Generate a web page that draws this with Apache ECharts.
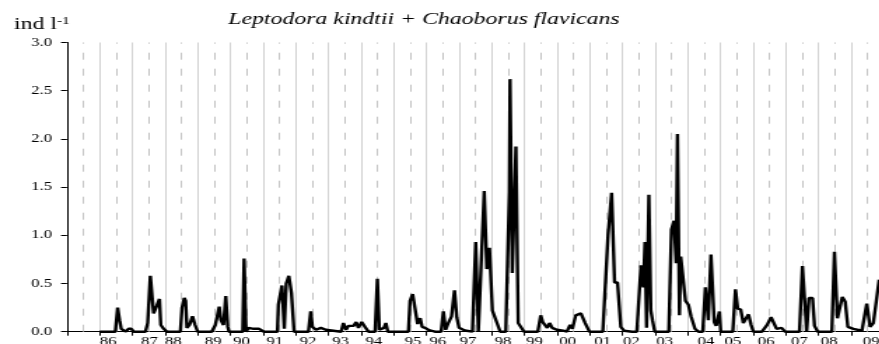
<!DOCTYPE html>
<html>
<head>
<meta charset="utf-8">
<script src="https://cdn.jsdelivr.net/npm/echarts@6/dist/echarts.min.js"></script>
<style>
  html, body { margin: 0; padding: 0; background: #fff; overflow: hidden; }
  #main { height: 344px; transform-origin: 0 0; }
</style>
</head>
<body>
<div id="main"></div>
<script>
// Sampling dates (decimal years) and densities of Leptodora + Chaoborus (ind/l)
const sampleDate = [
  1986.00, 1986.48, 1986.55, 1986.61, 1986.66, 1986.73, 1986.80, 1986.88, 1986.97, 1987.04,
  1987.40, 1987.47, 1987.52, 1987.55, 1987.65, 1987.75, 1987.83, 1987.87, 1987.96, 1988.06,
  1988.47, 1988.52, 1988.59, 1988.63, 1988.67, 1988.75, 1988.84, 1988.92, 1989.00,
  1989.43, 1989.54, 1989.59, 1989.66, 1989.71, 1989.79, 1989.86, 1989.92, 1989.96,
  1990.38, 1990.42, 1990.48, 1990.56, 1990.63, 1990.71, 1990.79, 1990.88, 1990.96, 1991.03,
  1991.44, 1991.47, 1991.52, 1991.58, 1991.65, 1991.71, 1991.79, 1991.87, 1991.95,
  1992.39, 1992.46, 1992.51, 1992.56, 1992.62, 1992.70, 1992.77, 1992.85, 1992.92, 1993.00,
  1993.39, 1993.46, 1993.54, 1993.61, 1993.68, 1993.77, 1993.85, 1993.92, 1994.02, 1994.12, 1994.23,
  1994.43, 1994.50, 1994.56, 1994.63, 1994.70, 1994.76, 1994.82,
  1995.45, 1995.50, 1995.58, 1995.66, 1995.73, 1995.81, 1995.87, 1995.96, 1996.06, 1996.16, 1996.26,
  1996.45, 1996.52, 1996.59, 1996.67, 1996.77, 1996.86, 1996.93, 1997.00, 1997.13, 1997.23, 1997.41,
  1997.44, 1997.51, 1997.59, 1997.77, 1997.85, 1997.93, 1998.02, 1998.26,
  1998.43, 1998.54, 1998.56, 1998.63, 1998.74, 1998.81, 1998.89, 1998.99,
  1999.41, 1999.50, 1999.56, 1999.63, 1999.70, 1999.77, 1999.85, 1999.99, 2000.19, 2000.30,
  2000.40, 2000.47, 2000.57, 2000.65, 2000.73, 2000.86, 2000.99,
  2001.40, 2001.56, 2001.67, 2001.76, 2001.85, 2001.95, 2002.05, 2002.30,
  2002.44, 2002.57, 2002.64, 2002.69, 2002.74, 2002.81, 2002.87, 2002.92, 2002.99,
  2003.42, 2003.50, 2003.58, 2003.645, 2003.685, 2003.745, 2003.785, 2003.86, 2003.93, 2004.02, 2004.10, 2004.22, 2004.33,
  2004.46, 2004.54, 2004.63, 2004.71, 2004.81, 2004.87, 2004.97, 2005.01,
  2005.38, 2005.46, 2005.53, 2005.62, 2005.70, 2005.78, 2005.86, 2005.94, 2006.01,
  2006.27, 2006.43, 2006.55, 2006.62, 2006.72, 2006.80, 2006.87, 2006.98,
  2007.42, 2007.51, 2007.64, 2007.71, 2007.82, 2007.88, 2007.98,
  2008.41, 2008.49, 2008.58, 2008.73, 2008.82, 2008.90, 2009.07, 2009.33, 2009.41,
  2009.48, 2009.58, 2009.68, 2009.76, 2009.86
];
const density = [
  0, 0, 0.25, 0.12, 0.03, 0.03, 0.00, 0.03, 0.03, 0,
  0, 0.09, 0.11, 0.58, 0.19, 0.27, 0.34, 0.07, 0.03, 0,
  0, 0.25, 0.35, 0.32, 0.04, 0.07, 0.16, 0.07, 0,
  0, 0.07, 0.09, 0.26, 0.12, 0.07, 0.37, 0.05, 0,
  0, 0.76, 0, 0.04, 0.02, 0.03, 0.02, 0.03, 0.02, 0,
  0, 0.28, 0.27, 0.48, 0.03, 0.50, 0.58, 0.40, 0,
  0, 0.21, 0.05, 0.07, 0.02, 0.02, 0.04, 0.04, 0.02, 0,
  0, 0.09, 0.02, 0.06, 0.05, 0.06, 0.10, 0.04, 0.10, 0.05, 0,
  0, 0.55, 0.02, 0.02, 0.04, 0.09, 0,
  0, 0.32, 0.39, 0.38, 0.08, 0.14, 0.05, 0.04, 0.02, 0.01, 0,
  0, 0.21, 0.02, 0.09, 0.16, 0.43, 0.15, 0.04, 0.02, 0.01, 0,
  0, 0.93, 0, 1.46, 0.65, 0.87, 0.22, 0,
  0, 1.45, 2.62, 0.61, 1.92, 0.09, 0.10, 0,
  0, 0.17, 0.10, 0.09, 0.04, 0.09, 0.04, 0.02, 0.01, 0,
  0.07, 0.03, 0.17, 0.16, 0.19, 0.09, 0,
  0, 1.00, 1.44, 0.51, 0.51, 0.05, 0.01, 0,
  0, 0.69, 0.46, 0.93, 0.04, 1.42, 0.22, 0.12, 0,
  0, 1.06, 1.15, 0.71, 2.05, 0.17, 0.78, 0.77, 0.32, 0.28, 0.16, 0.03, 0,
  0, 0.46, 0.12, 0.80, 0.10, 0.06, 0.21, 0,
  0, 0.44, 0.24, 0.23, 0.09, 0.09, 0.18, 0.07, 0,
  0, 0.07, 0.15, 0.15, 0.03, 0.05, 0.04, 0,
  0, 0.68, 0, 0.35, 0.35, 0.06, 0,
  0, 0.83, 0.14, 0.36, 0.31, 0.05, 0.03, 0.01, 0,
  0.29, 0.05, 0.09, 0.10, 0.54
];

// Year labels and where they sit on the time axis
const yearLabels = ['86','87','88','89','90','91','92','93','94','95','96','97',
                    '98','99','00','01','02','03','04','05','06','07','08','09'];
const yearLabelAt = [1986.26, 1987.52, 1988.25, 1989.47, 1990.34, 1991.36, 1992.38, 1993.37,
                     1994.39, 1995.59, 1996.35, 1997.27, 1998.34, 1999.31, 2000.33, 2001.40,
                     2002.27, 2003.29, 2004.56, 2005.38, 2006.40, 2007.42, 2008.33, 2009.61];

const yTicks = [0, 0.5, 1.0, 1.5, 2.0, 2.5, 3.0];
const xStart = 1985;
const xEnd = 2009.86;

// The figure is drawn narrow and widened horizontally, giving the wide lettering
const S = 1.4;
const el = document.getElementById('main');
el.style.width = (879 / S) + 'px';
el.style.transform = 'scaleX(' + S + ')';

const FONT = '"Liberation Serif", "Times New Roman", serif';

// Mid-year reference lines
const midYears = [];
for (let y = xStart; y < xEnd; y++) midYears.push(y + 0.5);

const chart = echarts.init(el, null, { renderer: 'canvas' });
chart.setOption({
  animation: false,
  backgroundColor: '#ffffff',
  grid: {
    left: 67 / S, right: 0, top: 42.5, bottom: 12.3,
    containLabel: false,
    outerBoundsMode: 'none'
  },
  xAxis: {
    type: 'value',
    min: xStart,
    max: xEnd,
    interval: 1,
    axisLine: { show: true, onZero: false, lineStyle: { color: '#000', width: 1 } },
    axisTick: { show: true, length: 4, lineStyle: { color: '#000', width: 1 } },
    axisLabel: {
      customValues: yearLabelAt,
      formatter: v => { const i = yearLabelAt.indexOf(v); return i >= 0 ? yearLabels[i] : ''; },
      margin: 4,
      color: '#000',
      fontFamily: FONT,
      fontSize: 12
    },
    splitLine: { show: true, lineStyle: { color: '#d2d2d2', width: 1 } }
  },
  yAxis: {
    type: 'value',
    min: yTicks[0],
    max: yTicks[yTicks.length - 1],
    interval: 0.5,
    axisLine: { show: true, lineStyle: { color: '#000', width: 1 } },
    axisTick: { show: true, length: 6 / S, lineStyle: { color: '#000', width: 1 } },
    axisLabel: {
      formatter: v => v.toFixed(1),
      margin: 15 / S,
      color: '#000',
      fontFamily: FONT,
      fontSize: 12
    },
    splitLine: { show: false }
  },
  graphic: [
    {
      type: 'text',
      x: 424 / S,
      y: 20,
      style: {
        text: 'Leptodora kindtii + Chaoborus flavicans',
        fontFamily: FONT,
        fontStyle: 'italic',
        fontSize: 17,
        fill: '#000',
        align: 'center',
        verticalAlign: 'middle'
      }
    },
    {
      type: 'text',
      x: 14 / S,
      y: 16,
      style: {
        text: 'ind l{sup|-1}',
        fontFamily: FONT,
        fontSize: 17,
        fill: '#000',
        align: 'left',
        verticalAlign: 'top',
        rich: { sup: { fontFamily: FONT, fontSize: 11, verticalAlign: 'top', fill: '#000' } }
      }
    }
  ],
  series: [
    {
      name: 'mid-year',
      type: 'line',
      data: [],
      z: 1,
      silent: true,
      markLine: {
        z: 1,
        silent: true,
        symbol: ['none', 'none'],
        label: { show: false },
        lineStyle: { type: [7, 9], color: '#c4c4c4', width: 1 },
        data: midYears.map(v => ({ xAxis: v }))
      }
    },
    {
      name: 'Leptodora kindtii + Chaoborus flavicans',
      type: 'line',
      z: 10,
      showSymbol: false,
      symbol: 'none',
      clip: true,
      lineStyle: { color: '#000', width: 2.4, join: 'bevel' },
      data: sampleDate.map((d, i) => [d, density[i]])
    }
  ]
});
</script>
</body>
</html>
